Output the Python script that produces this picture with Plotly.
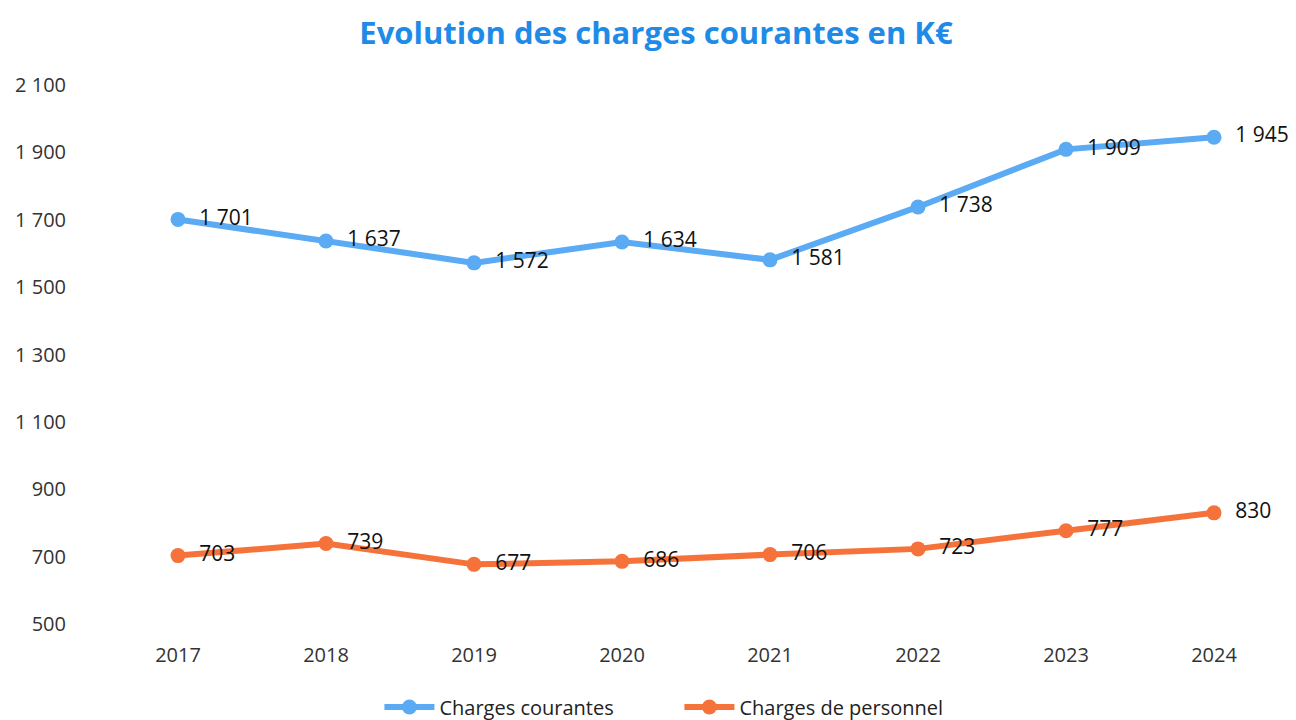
import plotly.graph_objects as go

years = ["2017", "2018", "2019", "2020", "2021", "2022", "2023", "2024"]
charges_courantes = [1701, 1637, 1572, 1634, 1581, 1738, 1909, 1945]
charges_personnel = [703, 739, 677, 686, 706, 723, 777, 830]
y_ticks = [500, 700, 900, 1100, 1300, 1500, 1700, 1900, 2100]

def fmt(v):
    return f"{v:,}".replace(",", " ")

font_family = "Open Sans, Liberation Sans, sans-serif"

fig = go.Figure()
fig.add_trace(go.Scatter(
    x=years, y=charges_courantes, name="Charges courantes",
    mode="lines+markers+text",
    line=dict(color="#5AAAF4", width=6),
    marker=dict(color="#5AAAF4", size=15),
    text=["  " + fmt(v) for v in charges_courantes],
    textposition="middle right",
    textfont=dict(size=21, color="#111111", family=font_family),
    cliponaxis=False,
))
fig.add_trace(go.Scatter(
    x=years, y=charges_personnel, name="Charges de personnel",
    mode="lines+markers+text",
    line=dict(color="#F5733A", width=6),
    marker=dict(color="#F5733A", size=15),
    text=["  " + fmt(v) for v in charges_personnel],
    textposition="middle right",
    textfont=dict(size=21, color="#111111", family=font_family),
    cliponaxis=False,
))

fig.update_layout(
    width=1296, height=720,
    paper_bgcolor="white", plot_bgcolor="white",
    separators=", ",
    title=dict(text="<b>Evolution des charges courantes en K€</b>",
               x=0.5, xanchor="center", y=0.965, yanchor="middle",
               font=dict(size=31, color="#1E8BE8", family=font_family)),
    margin=dict(l=96, r=16, t=77, b=104, autoexpand=False),
    font=dict(family=font_family, size=20, color="#333333"),
    xaxis=dict(type="category", range=[-0.5, 7.5], showgrid=False, showline=False,
               zeroline=False, ticks="", ticklabelstandoff=17, automargin=False,
               tickfont=dict(size=20, color="#333333")),
    yaxis=dict(range=[500, 2100], tickvals=y_ticks, tickformat=",d",
               showgrid=False, zeroline=False, showline=False, ticks="",
               ticklabelstandoff=37, automargin=False,
               tickfont=dict(size=20, color="#333333")),
    legend=dict(orientation="h", x=0.486, xanchor="center", y=-0.154, yanchor="middle",
                font=dict(size=20, color="#222222"), itemwidth=50,
                entrywidth=235, entrywidthmode="pixels"),
    showlegend=True,
)

fig.write_html("out.html")
